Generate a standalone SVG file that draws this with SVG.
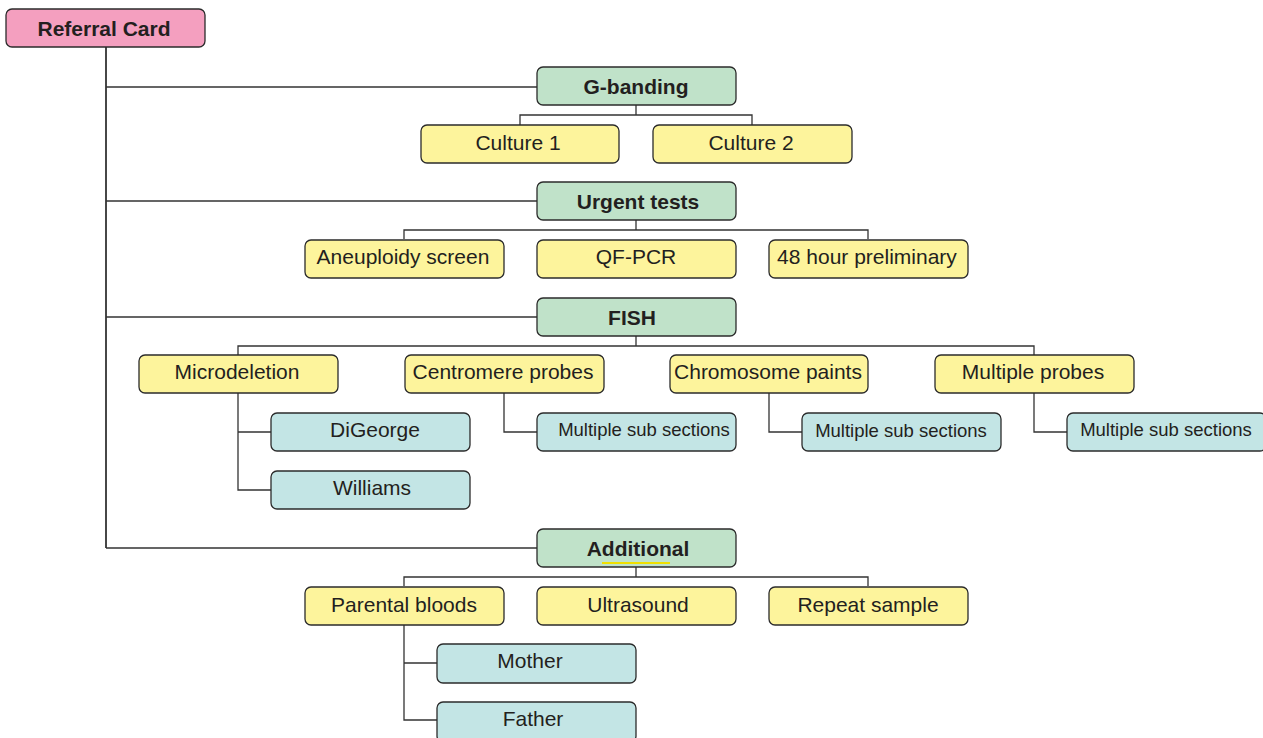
<svg xmlns="http://www.w3.org/2000/svg" width="1263" height="738" viewBox="0 0 1263 738">
<style>
.n{stroke:#2b2b2b;stroke-width:1.3}
.pink{fill:#f49fbf}
.green{fill:#c0e2c9}
.yel{fill:#fdf49c}
.teal{fill:#c3e5e5}
text{font-family:"Liberation Sans",Arial,sans-serif;font-size:21px;fill:#231f20;text-anchor:middle;dominant-baseline:central}
.b{font-weight:bold}
.s{font-size:18.5px}
#connectors path{fill:none;stroke:#333;stroke-width:1.3}
</style>
<rect width="1263" height="738" fill="#fff"/>
<g id="connectors">
<path d="M106 47V548" style="stroke-width:1.8"/>
<path d="M106 87H537M106 201H537M106 317H537M106 548H537"/>
<path d="M636 105V115M520 125V115H752V125"/>
<path d="M636 220V230M404 239V230H868V239"/>
<path d="M636 336V346M238 355V346H1034V355"/>
<path d="M238 393V490H271M238 432H271"/>
<path d="M504 393V432H537M769 393V432H802M1034 393V432H1067"/>
<path d="M636 567V577M404 586V577H868V586"/>
<path d="M404 625V720H437M404 663H437"/>
</g>
<g id="referral"><rect class="n pink" x="6" y="9" width="199" height="38" rx="6"/><text class="b" x="104" y="28">Referral Card</text></g>
<g id="gbanding"><rect class="n green" x="537" y="67" width="199" height="38" rx="6"/><text class="b" x="636" y="86">G-banding</text></g>
<g id="culture1"><rect class="n yel" x="421" y="125" width="198" height="38" rx="6"/><text x="518" y="142">Culture 1</text></g>
<g id="culture2"><rect class="n yel" x="653" y="125" width="199" height="38" rx="6"/><text x="751" y="142">Culture 2</text></g>
<g id="urgent"><rect class="n green" x="537" y="182" width="199" height="38" rx="6"/><text class="b" x="638" y="201">Urgent tests</text></g>
<g id="aneuploidy"><rect class="n yel" x="305" y="240" width="199" height="38" rx="6"/><text x="403" y="256">Aneuploidy screen</text></g>
<g id="qfpcr"><rect class="n yel" x="537" y="240" width="199" height="38" rx="6"/><text x="636" y="256">QF-PCR</text></g>
<g id="h48"><rect class="n yel" x="769" y="240" width="199" height="38" rx="6"/><text x="867" y="256">48 hour preliminary</text></g>
<g id="fish"><rect class="n green" x="537" y="298" width="199" height="38" rx="6"/><text class="b" x="632" y="317">FISH</text></g>
<g id="microdeletion"><rect class="n yel" x="139" y="355" width="199" height="38" rx="6"/><text x="237" y="371">Microdeletion</text></g>
<g id="centromere"><rect class="n yel" x="405" y="355" width="199" height="38" rx="6"/><text x="503" y="371">Centromere probes</text></g>
<g id="paints"><rect class="n yel" x="670" y="355" width="198" height="38" rx="6"/><text x="768" y="371">Chromosome paints</text></g>
<g id="multiprobes"><rect class="n yel" x="935" y="355" width="199" height="38" rx="6"/><text x="1033" y="371">Multiple probes</text></g>
<g id="digeorge"><rect class="n teal" x="271" y="413" width="199" height="38" rx="6"/><text x="375" y="429">DiGeorge</text></g>
<g id="williams"><rect class="n teal" x="271" y="471" width="199" height="38" rx="6"/><text x="372" y="487">Williams</text></g>
<g id="sub1"><rect class="n teal" x="537" y="413" width="199" height="38" rx="6"/><text class="s" x="644" y="429">Multiple sub sections</text></g>
<g id="sub2"><rect class="n teal" x="802" y="413" width="199" height="38" rx="6"/><text class="s" x="901" y="430">Multiple sub sections</text></g>
<g id="sub3"><rect class="n teal" x="1067" y="413" width="199" height="38" rx="6"/><text class="s" x="1166" y="429">Multiple sub sections</text></g>
<g id="additional"><rect class="n green" x="537" y="529" width="199" height="38" rx="6"/><text class="b" x="638" y="548">Additional</text><path d="M602 563H670" stroke="#f0e000" stroke-width="2"/></g>
<g id="parental"><rect class="n yel" x="305" y="587" width="199" height="38" rx="6"/><text x="404" y="604">Parental bloods</text></g>
<g id="ultrasound"><rect class="n yel" x="537" y="587" width="199" height="38" rx="6"/><text x="638" y="604">Ultrasound</text></g>
<g id="repeat"><rect class="n yel" x="769" y="587" width="199" height="38" rx="6"/><text x="868" y="604">Repeat sample</text></g>
<g id="mother"><rect class="n teal" x="437" y="644" width="199" height="39" rx="6"/><text x="530" y="660">Mother</text></g>
<g id="father"><rect class="n teal" x="437" y="702" width="199" height="40" rx="6"/><text x="533" y="718">Father</text></g>
</svg>
